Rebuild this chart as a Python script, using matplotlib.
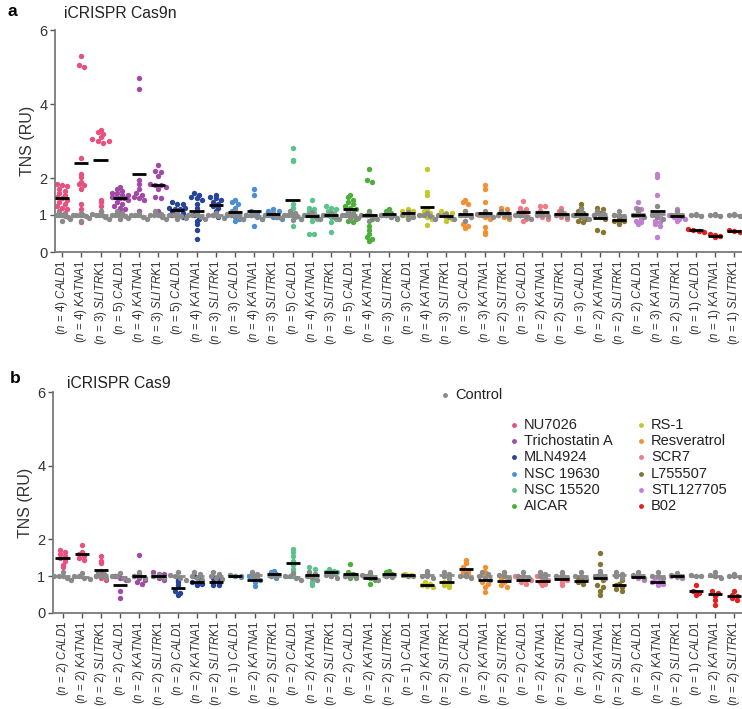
import numpy as np
import matplotlib
matplotlib.use('Agg')
import matplotlib.pyplot as plt
from matplotlib.lines import Line2D

plt.rcParams['font.family'] = ['Liberation Sans', 'DejaVu Sans']
plt.rcParams['mathtext.fontset'] = 'custom'
plt.rcParams['mathtext.rm'] = 'Liberation Sans'
plt.rcParams['mathtext.it'] = 'Liberation Sans:italic'

# ---- data ----
drugs = ['NU7026', 'Trichostatin A', 'MLN4924', 'NSC 19630', 'NSC 15520', 'AICAR',
         'RS-1', 'Resveratrol', 'SCR7', 'L755507', 'STL127705', 'B02']
drug_colors = ['#e8507f', '#a04aa6', '#27449a', '#4a8fd4', '#5cc28c', '#4caf3a',
               '#c4c72e', '#f39035', '#f07b84', '#847532', '#c07fd0', '#e3221f']
control_color = '#8a8a8a'
genes = ['CALD1', 'KATNA1', 'SLITRK1']

n_a = [4, 4, 3, 5, 4, 3, 5, 4, 3, 3, 4, 3, 5, 4, 3, 5, 4, 3,
       3, 4, 3, 3, 3, 2, 3, 2, 2, 3, 2, 2, 2, 3, 2, 1, 1, 1]
n_b = [2, 2, 2, 2, 2, 2, 2, 2, 2, 1, 2, 2, 2, 2, 2, 2, 2, 2,
       1, 2, 2, 2, 2, 2, 2, 2, 2, 2, 2, 2, 2, 2, 2, 1, 2, 2]

# iCRISPR Cas9n, treated cells
treat_a = [
    [1.85, 1.8, 1.78, 1.7, 1.65, 1.6, 1.55, 1.5, 1.45, 1.4, 1.35, 1.3, 1.25, 1.2, 1.15, 1.1, 1.05],
    [5.3, 5.05, 5.0, 2.55, 2.1, 2.03, 1.9, 1.85, 1.8, 1.7, 1.3, 1.17, 1.04, 0.8],
    [3.3, 3.25, 3.2, 3.1, 3.05, 3.0, 2.95, 3.0, 1.4, 1.35, 1.25, 1.1],
    [1.75, 1.7, 1.65, 1.6, 1.6, 1.55, 1.55, 1.5, 1.5, 1.45, 1.45, 1.4, 1.35, 1.3, 1.25, 1.2, 1.15, 1.1],
    [4.7, 4.4, 1.95, 1.85, 1.7, 1.6, 1.55, 1.5, 1.45, 1.4, 1.1],
    [2.35, 2.2, 2.15, 2.05, 1.85, 1.8, 1.8, 1.75, 1.7, 1.5, 1.45, 1.1],
    [1.35, 1.3, 1.3, 1.2, 1.15, 1.1, 1.1, 1.05, 1.0, 1.0, 0.95, 1.15, 1.2],
    [1.6, 1.55, 1.5, 1.45, 1.4, 1.3, 1.2, 1.1, 1.0, 0.9, 0.85, 0.75, 0.6, 0.35],
    [1.55, 1.5, 1.45, 1.4, 1.35, 1.3, 1.25, 1.2, 1.1, 1.0, 0.95],
    [1.4, 1.35, 1.3, 1.2, 1.1, 1.05, 1.0, 1.0, 0.95, 0.9, 0.9, 0.85],
    [1.7, 1.55, 1.1, 1.05, 1.0, 1.0, 0.95, 0.9, 0.7],
    [1.15, 1.1, 1.05, 1.0, 1.0, 0.95, 0.95, 0.9, 1.1],
    [2.8, 2.5, 2.45, 1.3, 1.2, 1.1, 1.05, 1.0, 1.0, 0.95, 0.9, 0.7],
    [1.4, 1.2, 1.15, 1.1, 1.05, 1.0, 0.95, 0.9, 0.85, 0.5, 0.5],
    [1.25, 1.2, 1.15, 1.1, 1.05, 1.0, 0.95, 0.9, 0.8, 0.55],
    [1.55, 1.5, 1.4, 1.35, 1.3, 1.25, 1.2, 1.15, 1.1, 1.05, 1.0, 0.95, 0.9, 0.85, 0.8],
    [2.25, 1.95, 1.9, 1.1, 1.0, 0.9, 0.7, 0.6, 0.5, 0.4, 0.3, 0.35],
    [1.1, 1.05, 1.0, 1.0, 0.95, 0.9, 1.15],
    [1.15, 1.1, 1.05, 1.0, 0.95, 1.1],
    [2.25, 1.62, 1.55, 1.15, 1.1, 1.05, 1.0, 0.95, 0.9, 0.72],
    [1.1, 1.05, 1.0, 0.95, 0.9, 0.85, 1.05],
    [1.4, 1.35, 1.3, 1.1, 1.0, 0.75, 0.7, 0.65],
    [1.8, 1.71, 1.35, 1.0, 0.95, 0.9, 0.68, 0.55, 0.5],
    [1.2, 1.15, 1.1, 1.05, 1.0, 0.95, 0.9],
    [1.38, 1.2, 1.15, 1.1, 1.05, 1.0, 0.9, 0.85],
    [1.25, 1.25, 1.1, 1.05, 1.0, 0.95, 0.9],
    [1.2, 1.1, 1.05, 1.0, 0.95, 0.9],
    [1.3, 1.2, 1.1, 1.05, 1.0, 0.95, 0.9, 0.85, 0.8],
    [1.2, 1.15, 1.05, 1.0, 0.95, 0.9, 0.6, 0.55],
    [1.0, 0.95, 0.9, 0.85, 0.8, 0.75, 0.85],
    [1.35, 1.2, 1.15, 1.1, 1.0, 0.9, 0.85, 0.8, 0.75],
    [2.12, 2.03, 1.53, 1.0, 0.95, 0.85, 0.8, 0.75, 0.7, 0.4],
    [1.15, 1.05, 1.0, 0.95, 0.9, 0.9, 0.85],
    [0.62, 0.6, 0.58, 0.55],
    [0.48, 0.45, 0.42, 0.4],
    [0.6, 0.58, 0.55],
]

ctrl_a = [
    [1.08, 1.03, 1.0, 1.0, 1.0, 1.0, 0.97, 0.95, 0.9, 0.85],
    [1.05, 1.0, 1.0, 1.0, 1.0, 0.96, 0.92, 0.85],
    [1.1, 1.02, 1.0, 1.0, 1.0, 0.95, 0.9],
    [1.12, 1.05, 1.0, 1.0, 1.0, 1.0, 0.97, 0.93, 0.88],
    [1.05, 1.0, 1.0, 1.0, 0.95, 0.9],
    [1.1, 1.03, 1.0, 1.0, 1.0, 0.95, 0.9],
    [1.05, 1.0, 1.0, 1.0, 0.97, 0.92, 0.88],
    [1.08, 1.0, 1.0, 1.0, 0.95, 0.9],
    [1.05, 1.0, 1.0, 0.97, 0.92],
    [1.1, 1.02, 1.0, 1.0, 0.95, 0.9],
    [1.03, 1.0, 1.0, 0.96, 0.9],
    [1.05, 1.0, 1.0, 0.95, 0.92],
    [1.1, 1.05, 1.0, 1.0, 1.0, 0.96, 0.9, 0.86],
    [1.08, 1.0, 1.0, 1.0, 0.95, 0.9],
    [1.05, 1.0, 1.0, 0.95, 0.9],
    [1.1, 1.04, 1.0, 1.0, 1.0, 0.96, 0.92, 0.88],
    [1.06, 1.0, 1.0, 0.97, 0.9, 0.85],
    [1.05, 1.0, 1.0, 0.95, 0.92],
    [1.08, 1.0, 1.0, 0.95, 0.88],
    [1.05, 1.0, 1.0, 0.96, 0.9],
    [1.04, 1.0, 1.0, 0.95, 0.9],
    [1.1, 1.0, 1.0, 0.95, 0.85],
    [1.1, 1.02, 1.0, 1.0, 0.94],
    [1.12, 1.05, 1.0, 1.0, 0.95],
    [1.08, 1.0, 1.0, 0.95, 0.9],
    [1.05, 1.0, 1.0, 0.96],
    [1.1, 1.0, 1.0, 0.95],
    [1.15, 1.05, 1.0, 1.0, 0.95, 0.9],
    [1.12, 1.05, 1.0, 1.0, 0.95],
    [1.1, 1.0, 1.0, 0.95],
    [1.15, 1.05, 1.0, 1.0, 0.95],
    [1.25, 1.05, 1.0, 0.95, 0.9],
    [1.12, 1.0, 1.0, 0.96],
    [1.03, 1.0, 1.0, 0.98],
    [1.03, 1.0, 1.0, 0.98],
    [1.03, 1.0, 1.0, 0.98],
]

# iCRISPR Cas9, treated cells
treat_b = [
    [1.7, 1.65, 1.6, 1.55, 1.5, 1.4, 1.3, 1.25],
    [1.85, 1.65, 1.6, 1.55, 1.5, 1.45],
    [1.55, 1.4, 1.35, 1.15, 1.05, 1.0, 0.95, 0.9],
    [1.0, 0.95, 0.9, 0.6, 0.4],
    [1.57, 1.05, 1.0, 0.95, 0.9, 0.85, 0.8],
    [1.1, 1.05, 1.0, 0.95, 0.9, 1.05],
    [0.9, 0.85, 0.75, 0.6, 0.55, 0.5],
    [1.0, 0.9, 0.85, 0.8, 0.75, 0.8],
    [0.95, 0.9, 0.85, 0.8, 0.75, 0.75],
    [1.02, 1.0, 0.98],
    [1.0, 0.95, 0.9, 0.72, 0.85],
    [1.15, 1.1, 1.05, 1.0, 0.95],
    [1.75, 1.65, 1.55, 1.4, 1.3, 1.2, 1.1, 1.0],
    [1.25, 1.2, 1.1, 1.05, 1.0, 0.95, 0.85, 0.75],
    [1.2, 1.15, 1.1, 1.05, 1.0, 1.1],
    [1.32, 1.1, 1.05, 1.0, 0.95, 1.0],
    [1.05, 1.0, 0.95, 0.9, 0.8],
    [1.15, 1.1, 1.05, 1.0, 1.0],
    [1.05, 1.03, 1.0],
    [0.85, 0.8, 0.75, 0.72, 0.7],
    [1.0, 0.9, 0.85, 0.8, 0.75, 0.7],
    [1.43, 1.35, 1.25, 1.15, 1.1, 1.05, 1.0],
    [1.25, 1.1, 1.0, 0.85, 0.8, 0.7, 0.58],
    [1.05, 0.95, 0.9, 0.85, 0.75, 0.7],
    [1.0, 0.95, 0.9, 0.85, 0.8, 0.9],
    [1.0, 0.95, 0.9, 0.85, 0.8, 0.75],
    [1.05, 1.0, 0.95, 0.9, 0.85, 0.75],
    [0.95, 0.9, 0.85, 0.8],
    [1.63, 1.32, 1.05, 1.0, 0.9, 0.75, 0.7, 0.6, 0.49],
    [1.0, 0.9, 0.8, 0.75, 0.7, 0.65, 0.6],
    [1.05, 1.0, 0.95, 0.9],
    [0.95, 0.9, 0.85, 0.8, 0.75, 0.8],
    [1.05, 1.0, 0.98, 0.95],
    [0.76, 0.6, 0.55, 0.5],
    [1.0, 0.6, 0.55, 0.45, 0.35, 0.22],
    [0.6, 0.5, 0.45, 0.4, 0.35],
]

ctrl_b = [
    [1.1, 1.0, 1.0, 1.0, 0.95, 0.9],
    [1.08, 1.0, 1.0, 0.95, 0.92],
    [1.1, 1.05, 1.0, 1.0, 0.95],
    [1.08, 1.0, 1.0, 0.95, 0.9],
    [1.1, 1.0, 1.0, 0.95],
    [1.05, 1.0, 1.0, 0.95],
    [1.1, 1.02, 1.0, 0.95, 0.9],
    [1.1, 1.05, 1.0, 0.95, 0.9],
    [1.1, 1.05, 1.0, 0.96, 0.92],
    [1.02, 1.0, 1.0],
    [1.1, 1.05, 1.0, 0.95],
    [1.05, 1.0, 1.0],
    [1.08, 1.0, 1.0, 0.95, 0.9],
    [1.12, 1.05, 1.0, 0.95, 0.9],
    [1.1, 1.02, 1.0, 0.96],
    [1.05, 1.0, 1.0, 0.95],
    [1.1, 1.02, 1.0, 0.95, 0.9],
    [1.05, 1.0, 0.98],
    [1.02, 1.0, 1.0],
    [1.15, 1.08, 1.0, 1.0, 0.95],
    [1.1, 1.05, 1.0, 0.95],
    [1.05, 1.0, 1.0, 0.95],
    [1.1, 1.05, 1.0, 0.95, 0.9],
    [1.1, 1.02, 1.0, 0.95],
    [1.1, 1.0, 1.0, 0.95],
    [1.1, 1.05, 1.0, 0.95],
    [1.1, 1.0, 1.0, 0.95],
    [1.1, 1.0, 1.0, 0.92],
    [1.15, 1.05, 1.0, 1.0, 0.95],
    [1.12, 1.05, 1.0, 0.95],
    [1.12, 1.02, 1.0, 0.96],
    [1.1, 1.0, 1.0, 0.95],
    [1.08, 1.02, 1.0, 0.98],
    [1.02, 1.0, 1.0],
    [1.1, 1.02, 1.0, 0.95],
    [1.05, 1.0, 1.0, 0.98],
]

W, H = 742, 709
fig = plt.figure(figsize=(W / 100, H / 100), dpi=100)


def fx(px):
    return px / W


def fy(py):
    return 1 - py / H


def swarm_offsets(vals, ybin=0.12, dx=0.28, maxw=0.85):
    # simple row-based beeswarm: points in the same y-bin are spread sideways
    vals = np.asarray(vals, float)
    bins = np.round(vals / ybin).astype(int)
    offs = np.zeros(len(vals))
    for b in np.unique(bins):
        idx = np.where(bins == b)[0]
        k = len(idx)
        step = dx if (k - 1) * dx <= maxw else maxw / (k - 1)
        offs[idx] = (np.arange(k) - (k - 1) / 2) * step
    return offs


def draw_panel(ax, treat, ctrl, ns):
    ncat = len(treat)
    for i in range(ncat):
        col = drug_colors[i // 3]
        tv = np.array(treat[i])
        cv = np.array(ctrl[i])
        ax.hlines(cv.mean(), i - 0.37, i + 0.37, color=control_color, lw=2, zorder=1)
        ax.scatter(i + swarm_offsets(tv), tv, s=15, color=col, linewidths=0, zorder=2)
        ax.scatter(i + swarm_offsets(cv), cv, s=15, color=control_color, linewidths=0, zorder=3)
        ax.hlines(tv.mean(), i - 0.37, i + 0.37, color='black', lw=2, zorder=4)

    labels = [r'($n$ = %d) $\mathit{%s}$' % (ns[i], genes[i % 3]) for i in range(ncat)]
    ax.set_xticks(range(ncat))
    ax.set_xticklabels(labels, rotation=90, fontsize=8.3, color='#333333')
    ax.set_ylim(0, 6)
    ax.set_yticks([0, 1, 2, 4, 6])
    ax.set_yticklabels(['0', '1', '2', '4', '6'], fontsize=10.5, color='#333333')
    ax.set_ylabel('TNS (RU)', fontsize=11.5, color='#333333', labelpad=3)
    for s in ['top', 'right']:
        ax.spines[s].set_visible(False)
    for s in ['left', 'bottom']:
        ax.spines[s].set_color('#7a7a7a')
        ax.spines[s].set_linewidth(1.3)
    ax.tick_params(axis='both', colors='#555555', length=3.5, width=1, pad=2)
    ax.tick_params(axis='x', labelcolor='#333333')
    ax.tick_params(axis='y', labelcolor='#333333')


ax_a = fig.add_axes([fx(55), fy(252), fx(W - 55), (252 - 30) / H])
ax_a.set_xlim(-0.37, 35.4)
draw_panel(ax_a, treat_a, ctrl_a, n_a)

ax_b = fig.add_axes([fx(53), fy(613), fx(W - 53), (613 - 392) / H])
ax_b.set_xlim(-0.5, 35.4)
draw_panel(ax_b, treat_b, ctrl_b, n_b)

# panel letters and titles
fig.text(fx(8), fy(12), 'a', fontsize=12.5, fontweight='bold', va='center', ha='left')
fig.text(fx(64), fy(14), 'iCRISPR Cas9n', fontsize=11.3, va='center', ha='left', color='#222222')
fig.text(fx(10), fy(379), 'b', fontsize=12.5, fontweight='bold', va='center', ha='left')
fig.text(fx(67), fy(383), 'iCRISPR Cas9', fontsize=11.3, va='center', ha='left', color='#222222')

# legend (drawn by hand to follow the two-column layout)
legend_items = [('Control', control_color, 445, 395)]
for k, name in enumerate(drugs):
    colx = 514 if k < 6 else 641
    rowy = 425 + 16.2 * (k % 6)
    legend_items.append((name, drug_colors[k], colx, rowy))
for name, col, px, py in legend_items:
    fig.add_artist(Line2D([fx(px)], [fy(py)], marker='o', ls='', markersize=3.5,
                          markerfacecolor=col, markeredgewidth=0, transform=fig.transFigure))
    fig.text(fx(px + 10), fy(py), name, fontsize=10.5, va='center', ha='left', color='#222222')

fig.savefig('out.png', dpi=100)
